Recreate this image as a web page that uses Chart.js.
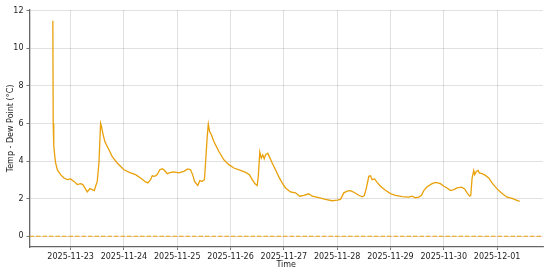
<!DOCTYPE html>
<html>
<head>
<meta charset="utf-8">
<script src="https://cdn.jsdelivr.net/npm/chart.js@4/dist/chart.umd.min.js"></script>
<style>
html,body{margin:0;padding:0;background:#fff;}
#wrap{width:550px;height:275px;position:relative;}
</style>
</head>
<body>
<div id="wrap"><canvas id="c" width="550" height="275"></canvas></div>
<script>
const times = [
"2025-11-22T16:00","2025-11-22T16:10","2025-11-22T16:25","2025-11-22T16:56","2025-11-22T17:15","2025-11-22T18:00","2025-11-22T19:30","2025-11-22T21:00","2025-11-22T22:30",
"2025-11-23T00:00","2025-11-23T01:30","2025-11-23T03:00","2025-11-23T04:30","2025-11-23T05:30","2025-11-23T06:25","2025-11-23T07:30","2025-11-23T08:40","2025-11-23T09:45","2025-11-23T10:40","2025-11-23T11:15","2025-11-23T12:00","2025-11-23T12:45","2025-11-23T13:30","2025-11-23T13:55","2025-11-23T14:30","2025-11-23T15:25","2025-11-23T17:15","2025-11-23T18:45","2025-11-23T21:00",
"2025-11-24T00:00","2025-11-24T03:00","2025-11-24T05:15","2025-11-24T07:30","2025-11-24T09:45","2025-11-24T10:45","2025-11-24T12:00","2025-11-24T12:45","2025-11-24T13:50","2025-11-24T15:00","2025-11-24T16:10","2025-11-24T17:15","2025-11-24T18:20","2025-11-24T19:30","2025-11-24T21:00","2025-11-24T22:30",
"2025-11-25T00:45","2025-11-25T03:00","2025-11-25T04:45","2025-11-25T06:00","2025-11-25T06:55","2025-11-25T07:50","2025-11-25T08:40","2025-11-25T09:15","2025-11-25T10:10","2025-11-25T11:15","2025-11-25T12:15","2025-11-25T12:45","2025-11-25T13:30","2025-11-25T14:00","2025-11-25T14:35","2025-11-25T15:25","2025-11-25T16:30","2025-11-25T18:45","2025-11-25T21:00","2025-11-25T23:15",
"2025-11-26T01:30","2025-11-26T04:30","2025-11-26T06:45","2025-11-26T08:30","2025-11-26T09:45","2025-11-26T10:55","2025-11-26T12:00","2025-11-26T12:30","2025-11-26T13:10","2025-11-26T13:50","2025-11-26T14:30","2025-11-26T15:10","2025-11-26T15:45","2025-11-26T16:45","2025-11-26T17:35","2025-11-26T18:45","2025-11-26T20:15","2025-11-26T21:45","2025-11-26T23:15",
"2025-11-27T00:45","2025-11-27T03:00","2025-11-27T05:15","2025-11-27T07:10","2025-11-27T09:00","2025-11-27T11:15","2025-11-27T12:45","2025-11-27T15:45","2025-11-27T18:45","2025-11-27T21:45",
"2025-11-28T00:00","2025-11-28T01:30","2025-11-28T03:00","2025-11-28T04:30","2025-11-28T06:00","2025-11-28T07:30","2025-11-28T09:45","2025-11-28T11:15","2025-11-28T12:15","2025-11-28T13:10","2025-11-28T14:15","2025-11-28T15:00","2025-11-28T15:45","2025-11-28T16:50","2025-11-28T18:00","2025-11-28T19:30","2025-11-28T21:45",
"2025-11-29T00:00","2025-11-29T02:15","2025-11-29T05:15","2025-11-29T08:15","2025-11-29T09:45","2025-11-29T11:15","2025-11-29T12:45","2025-11-29T14:00","2025-11-29T15:00","2025-11-29T16:30","2025-11-29T18:45","2025-11-29T20:15","2025-11-29T22:30",
"2025-11-30T00:00","2025-11-30T01:30","2025-11-30T03:00","2025-11-30T04:30","2025-11-30T06:00","2025-11-30T08:00","2025-11-30T09:25","2025-11-30T10:30","2025-11-30T11:40","2025-11-30T12:10","2025-11-30T12:45","2025-11-30T13:30","2025-11-30T13:55","2025-11-30T14:40","2025-11-30T15:30","2025-11-30T16:00","2025-11-30T17:15","2025-11-30T18:45","2025-11-30T20:15","2025-11-30T22:00",
"2025-12-01T00:00","2025-12-01T02:15","2025-12-01T04:30","2025-12-01T06:45","2025-12-01T08:40","2025-12-01T10:10"
];
const spread = [
11.47,6.0,4.8,4.2,3.9,3.54,3.28,3.1,3.01,
3.05,2.92,2.75,2.80,2.75,2.57,2.36,2.54,2.48,2.43,2.66,2.92,3.9,6.01,5.83,5.48,5.04,4.6,4.24,3.9,
3.54,3.37,3.28,3.1,2.89,2.84,3.01,3.22,3.19,3.28,3.54,3.59,3.5,3.33,3.4,3.42,
3.37,3.45,3.58,3.54,3.28,2.92,2.79,2.7,2.96,2.92,3.01,3.9,5.3,5.97,5.57,5.39,5.04,4.51,4.07,3.81,
3.63,3.5,3.4,3.28,3.01,2.8,2.7,3.19,4.48,4.16,4.33,4.12,4.33,4.42,4.21,3.9,3.54,3.16,2.84,
2.57,2.36,2.31,2.13,2.18,2.26,2.13,2.05,1.96,1.89,
1.92,1.96,2.31,2.4,2.43,2.34,2.18,2.1,2.17,2.57,3.19,3.22,3.01,3.05,2.87,2.66,2.45,
2.27,2.17,2.11,2.08,2.13,2.05,2.08,2.18,2.43,2.63,2.8,2.87,2.8,
2.66,2.57,2.43,2.48,2.57,2.61,2.52,2.31,2.13,2.17,3.1,3.5,3.28,3.45,3.5,3.37,3.33,3.24,3.1,2.8,
2.52,2.27,2.08,2.01,1.92,1.85
];
const referenceLine = 0;
const yTicks = [0, 2, 4, 6, 8, 10, 12];
const xTickDates = ["2025-11-23","2025-11-24","2025-11-25","2025-11-26","2025-11-27","2025-11-28","2025-11-29","2025-11-30","2025-12-01"];

const BASE = Date.UTC(2025, 10, 22);
const DAY = 86400000;
const toDays = s => (Date.parse(s + (s.length > 10 ? ":00Z" : "T00:00:00Z")) - BASE) / DAY;
const pts = times.map((t, i) => ({x: toDays(t), y: spread[i]}));
const xs = pts.map(p => p.x);
const dMin = Math.min(...xs), dMax = Math.max(...xs);
const xPad = (dMax - dMin) * 0.05;
const xMin = dMin - xPad, xMax = dMax + xPad;
const yLo = Math.min(referenceLine, ...spread), yHi = Math.max(...spread);
const yPad = (yHi - yLo) * 0.05;
const yMin = yLo - yPad, yMax = yHi + yPad;

const fmt = v => { const d = new Date(BASE + Math.round(v) * DAY); return d.toISOString().slice(0, 10); };
const FONT = "'DejaVu Sans', sans-serif";
const LINE = '#E9A00A';

new Chart(document.getElementById('c'), {
  type: 'line',
  data: {
    datasets: [
      {data: pts, borderColor: LINE, borderWidth: 1.3, pointRadius: 0, tension: 0, fill: false},
      {data: [{x: xMin, y: referenceLine}, {x: xMax, y: referenceLine}], borderColor: LINE, borderWidth: 1.2, borderDash: [4.5, 2], pointRadius: 0, fill: false}
    ]
  },
  options: {
    responsive: false,
    animation: false,
    devicePixelRatio: 1,
    layout: {padding: {top: 10, right: 7, left: 0, bottom: 0}},
    plugins: {legend: {display: false}, tooltip: {enabled: false}},
    scales: {
      x: {
        type: 'linear', min: xMin, max: xMax,
        afterBuildTicks: s => { s.ticks = xTickDates.map(d => ({value: toDays(d)})); },
        afterFit: s => { s.height = 28; },
        ticks: {callback: v => fmt(v), font: {family: FONT, size: 8}, color: '#222', maxRotation: 0, autoSkip: false, padding: 2},
        grid: {color: 'rgba(0,0,0,0.15)', borderDash: [1.5, 1.5], lineWidth: 0.8, tickLength: 3, tickColor: '#555', tickBorderDash: [], tickWidth: 0.8},
        border: {display: true, color: '#666', width: 1.3},
        title: {display: true, text: 'Time', font: {family: FONT, size: 8}, color: '#222', padding: {top: 0, bottom: 5}}
      },
      y: {
        type: 'linear', min: yMin, max: yMax,
        afterBuildTicks: s => { s.ticks = yTicks.map(v => ({value: v})); },
        afterFit: s => { s.width = 29.5; },
        ticks: {font: {family: FONT, size: 8}, color: '#222', padding: 3},
        grid: {color: 'rgba(0,0,0,0.15)', borderDash: [1.5, 1.5], lineWidth: 0.8, tickLength: 3, tickColor: '#555', tickBorderDash: [], tickWidth: 0.8},
        border: {display: true, color: '#666', width: 1.3},
        title: {display: true, text: 'Temp - Dew Point (°C)', font: {family: FONT, size: 8}, color: '#222', padding: {top: 6, bottom: 0}}
      }
    }
  }
});
</script>
</body>
</html>
